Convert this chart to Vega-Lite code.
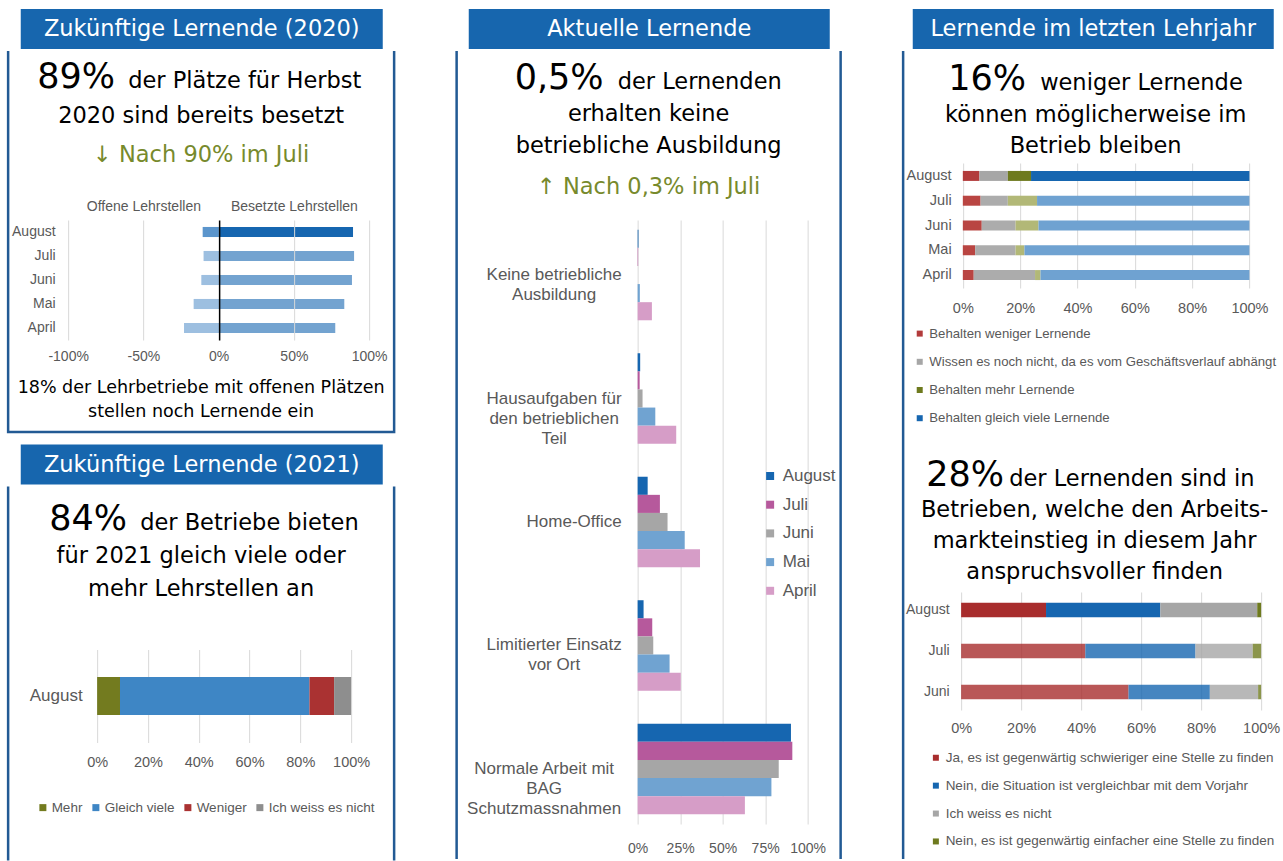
{
  "$schema": "https://vega.github.io/schema/vega-lite/v6.json",
  "background": "#ffffff",
  "padding": {"left": 6.75, "top": 9, "right": 0, "bottom": 0},
  "spacing": 59.5,
  "resolve": {"scale": {"color": "independent"}, "legend": {"color": "independent"}},
  "config": {
    "view": {"stroke": null},
    "axis": {"labelFont": "Liberation Sans", "labelColor": "#595959", "domain": false, "ticks": false, "tickSize": 0, "gridColor": "#d9d9d9", "gridWidth": 1, "labelFlush": false, "labelOverlap": false, "labelBound": false},
    "legend": {"labelFont": "Liberation Sans", "labelColor": "#595959", "symbolType": "square", "symbolStrokeWidth": 0, "labelLimit": 600, "padding": 0, "offset": 0},
    "text": {"font": "DejaVu Sans", "color": "#000000"}
  },
  "hconcat": [
    {
      "spacing": 10.5,
      "resolve": {"scale": {"color": "independent"}, "legend": {"color": "independent"}},
      "vconcat": [
        {
          "spacing": 0, "center": true,
          "resolve": {"scale": {"color": "independent"}, "legend": {"color": "independent"}},
          "vconcat": [
            {
              "width": 362, "height": 40,
              "view": {"fill": "#1766ae", "stroke": null},
              "data": {"values": [{"Titel": "Zukünftige Lernende (2020)"}]},
              "mark": {"type": "text", "font": "DejaVu Sans", "fontSize": 22.5, "color": "#ffffff", "baseline": "middle"},
              "encoding": {"text": {"field": "Titel"}}
            },
            {
              "width": 386, "height": 381,
              "view": {"stroke": "#225a94", "strokeWidth": 2.5, "strokeDash": [0, 386, 1148, 0]},
              "resolve": {"scale": {"y": "independent"}},
              "layer": [
                {
                  "data": {"values": [
                    {"Zeile": 1, "Teil": "Kennzahl", "Text": "89%"},
                    {"Zeile": 1, "Teil": "Text", "Text": "der Plätze für Herbst"},
                    {"Zeile": 2, "Teil": "Text", "Text": "2020 sind bereits besetzt"}
                  ]},
                  "encoding": {
                    "y": {"field": "Zeile", "type": "ordinal", "axis": null, "scale": {"type": "point", "range": [37, 72], "padding": 0}},
                    "text": {"field": "Text"}
                  },
                  "layer": [
                    {"transform": [{"filter": "datum.Teil === 'Kennzahl'"}], "mark": {"type": "text", "font": "DejaVu Sans", "fontSize": 35, "align": "right", "baseline": "alphabetic", "color": "#000000", "dx": -86}},
                    {"transform": [{"filter": "datum.Teil === 'Text' && datum.Zeile === 1"}], "mark": {"type": "text", "font": "DejaVu Sans", "fontSize": 22.5, "align": "left", "baseline": "alphabetic", "color": "#000000", "dx": -73}},
                    {"transform": [{"filter": "datum.Teil === 'Text' && datum.Zeile > 1"}], "mark": {"type": "text", "font": "DejaVu Sans", "fontSize": 22.5, "align": "center", "baseline": "alphabetic", "color": "#000000"}}
                  ]
                },
                {
                  "data": {"values": [{"Zeile": 1, "Text": "↓ Nach 90% im Juli"}]},
                  "mark": {"type": "text", "font": "DejaVu Sans", "fontSize": 22.5, "baseline": "alphabetic", "color": "#778a2c"},
                  "encoding": {
                    "y": {"field": "Zeile", "type": "ordinal", "axis": null, "scale": {"type": "point", "range": [111, 111], "padding": 0}},
                    "text": {"field": "Text"}
                  }
                },
                {
                  "data": {"values": [
                    {"Monat": "August", "Art": "Offene Lehrstellen", "Anteil": -0.106},
                    {"Monat": "August", "Art": "Besetzte Lehrstellen", "Anteil": 0.893},
                    {"Monat": "Juli", "Art": "Offene Lehrstellen", "Anteil": -0.1},
                    {"Monat": "Juli", "Art": "Besetzte Lehrstellen", "Anteil": 0.9},
                    {"Monat": "Juni", "Art": "Offene Lehrstellen", "Anteil": -0.115},
                    {"Monat": "Juni", "Art": "Besetzte Lehrstellen", "Anteil": 0.886},
                    {"Monat": "Mai", "Art": "Offene Lehrstellen", "Anteil": -0.166},
                    {"Monat": "Mai", "Art": "Besetzte Lehrstellen", "Anteil": 0.835},
                    {"Monat": "April", "Art": "Offene Lehrstellen", "Anteil": -0.23},
                    {"Monat": "April", "Art": "Besetzte Lehrstellen", "Anteil": 0.775}
                  ]},
                  "encoding": {
                    "y": {"field": "Monat", "type": "nominal", "sort": ["August", "Juli", "Juni", "Mai", "April"], "title": null,
                      "scale": {"range": [169, 289], "paddingInner": 0.58, "paddingOuter": 0.29},
                      "axis": {"orient": "left", "offset": -51, "labelPadding": 4, "labelFontSize": 14, "grid": false}},
                    "color": {"field": "Art", "type": "nominal", "scale": {"domain": ["Offene Lehrstellen", "Besetzte Lehrstellen"], "range": ["#5b95cc", "#1666b0"]}, "legend": null},
                    "opacity": {"condition": {"test": "datum.Monat === 'August'", "value": 1}, "value": 0.6}
                  },
                  "resolve": {"axis": {"x": "independent"}},
                  "layer": [
                    {
                      "transform": [{"filter": "datum.Art === 'Offene Lehrstellen'"}],
                      "mark": "bar",
                      "encoding": {"x": {"field": "Anteil", "type": "quantitative", "title": null,
                        "scale": {"domain": [-1, 1], "range": [60, 361], "nice": false},
                        "axis": {"orient": "top", "offset": -305, "values": [-1, -0.5, 0, 0.5, 1], "labelExpr": "round(datum.value*100) + '%'", "labelBaseline": "middle", "labelPadding": 0, "labelFontSize": 14, "grid": true, "zindex": 1,
                          "gridColor": {"condition": {"test": "datum.value === 0", "value": "#000000"}, "value": "#d9d9d9"},
                          "gridWidth": {"condition": {"test": "datum.value === 0", "value": 1.5}, "value": 1}}}}
                    },
                    {
                      "transform": [{"filter": "datum.Art === 'Besetzte Lehrstellen'"}],
                      "mark": "bar",
                      "encoding": {"x": {"field": "Anteil", "type": "quantitative", "title": null,
                        "axis": {"orient": "top", "offset": -155, "values": [-0.5, 0.5], "labelExpr": "datum.value < 0 ? 'Offene Lehrstellen' : 'Besetzte Lehrstellen'", "labelBaseline": "middle", "labelPadding": 0, "labelFontSize": 14, "grid": false}}}
                    }
                  ]
                },
                {
                  "data": {"values": [
                    {"Zeile": 1, "Text": "18% der Lehrbetriebe mit offenen Plätzen"},
                    {"Zeile": 2, "Text": "stellen noch Lernende ein"}
                  ]},
                  "mark": {"type": "text", "font": "DejaVu Sans", "fontSize": 17.5, "baseline": "alphabetic", "color": "#000000"},
                  "encoding": {
                    "y": {"field": "Zeile", "type": "ordinal", "axis": null, "scale": {"type": "point", "range": [342, 366], "padding": 0}},
                    "text": {"field": "Text"}
                  }
                }
              ]
            }
          ]
        },
        {
          "spacing": 0, "center": true,
          "resolve": {"scale": {"color": "independent"}, "legend": {"color": "independent"}},
          "vconcat": [
            {
              "width": 362, "height": 40,
              "view": {"fill": "#1766ae", "stroke": null},
              "data": {"values": [{"Titel": "Zukünftige Lernende (2021)"}]},
              "mark": {"type": "text", "font": "DejaVu Sans", "fontSize": 22.5, "color": "#ffffff", "baseline": "middle"},
              "encoding": {"text": {"field": "Titel"}}
            },
            {
              "width": 386, "height": 374,
              "view": {"stroke": "#225a94", "strokeWidth": 2.5, "strokeDash": [0, 386, 374, 386, 374, 0]},
              "resolve": {"scale": {"y": "independent"}},
              "layer": [
                {
                  "data": {"values": [
                    {"Zeile": 1, "Teil": "Kennzahl", "Text": "84%"},
                    {"Zeile": 1, "Teil": "Text", "Text": "der Betriebe bieten"},
                    {"Zeile": 2, "Teil": "Text", "Text": "für 2021 gleich viele oder"},
                    {"Zeile": 3, "Teil": "Text", "Text": "mehr Lehrstellen an"}
                  ]},
                  "encoding": {
                    "y": {"field": "Zeile", "type": "ordinal", "axis": null, "scale": {"type": "point", "range": [43, 109], "padding": 0}},
                    "text": {"field": "Text"}
                  },
                  "layer": [
                    {"transform": [{"filter": "datum.Teil === 'Kennzahl'"}], "mark": {"type": "text", "font": "DejaVu Sans", "fontSize": 35, "align": "right", "baseline": "alphabetic", "color": "#000000", "dx": -74}},
                    {"transform": [{"filter": "datum.Teil === 'Text' && datum.Zeile === 1"}], "mark": {"type": "text", "font": "DejaVu Sans", "fontSize": 22.5, "align": "left", "baseline": "alphabetic", "color": "#000000", "dx": -61}},
                    {"transform": [{"filter": "datum.Teil === 'Text' && datum.Zeile > 1"}], "mark": {"type": "text", "font": "DejaVu Sans", "fontSize": 22.5, "align": "center", "baseline": "alphabetic", "color": "#000000"}}
                  ]
                },
                {
                  "data": {"values": [
                    {"Monat": "August", "Antwort": "Mehr", "Anteil": 0.09},
                    {"Monat": "August", "Antwort": "Gleich viele", "Anteil": 0.746},
                    {"Monat": "August", "Antwort": "Weniger", "Anteil": 0.097},
                    {"Monat": "August", "Antwort": "Ich weiss es nicht", "Anteil": 0.067}
                  ]},
                  "transform": [{"window": [{"op": "row_number", "as": "Reihenfolge"}]}],
                  "mark": "bar",
                  "encoding": {
                    "y": {"field": "Monat", "type": "nominal", "title": null,
                      "scale": {"range": [163, 256], "paddingInner": 0, "paddingOuter": 0.724},
                      "axis": {"orient": "left", "offset": -78, "labelPadding": 4, "labelFontSize": 17}},
                    "x": {"field": "Anteil", "type": "quantitative", "stack": "zero", "title": null,
                      "scale": {"domain": [0, 1], "range": [89, 343], "nice": false},
                      "axis": {"orient": "top", "offset": -276, "values": [0, 0.2, 0.4, 0.6, 0.8, 1], "labelExpr": "round(datum.value*100) + '%'", "labelBaseline": "middle", "labelPadding": 0, "labelFontSize": 14.5, "grid": true}},
                    "color": {"field": "Antwort", "type": "nominal",
                      "scale": {"domain": ["Mehr", "Gleich viele", "Weniger", "Ich weiss es nicht"], "range": ["#737b1f", "#3e86c5", "#aa3232", "#8e8e8e"]},
                      "legend": {"orient": "none", "direction": "horizontal", "legendX": 28, "legendY": 314, "title": null, "labelFontSize": 13.5, "symbolSize": 49, "columnPadding": 6, "labelOffset": 2}},
                    "order": {"field": "Reihenfolge", "type": "quantitative"}
                  }
                }
              ]
            }
          ]
        }
      ]
    },
    {
      "spacing": 0, "center": true,
      "resolve": {"scale": {"color": "independent"}, "legend": {"color": "independent"}},
      "vconcat": [
        {
          "width": 361, "height": 40,
          "view": {"fill": "#1766ae", "stroke": null},
          "data": {"values": [{"Titel": "Aktuelle Lernende"}]},
          "mark": {"type": "text", "font": "DejaVu Sans", "fontSize": 22.5, "color": "#ffffff", "baseline": "middle"},
          "encoding": {"text": {"field": "Titel"}}
        },
        {
          "width": 384, "height": 808,
          "view": {"stroke": "#225a94", "strokeWidth": 2.5, "strokeDash": [0, 384, 808, 384, 808, 0]},
          "resolve": {"scale": {"y": "independent"}},
          "layer": [
            {
              "data": {"values": [
                {"Zeile": 1, "Teil": "Kennzahl", "Text": "0,5%"},
                {"Zeile": 1, "Teil": "Text", "Text": "der Lernenden"},
                {"Zeile": 2, "Teil": "Text", "Text": "erhalten keine"},
                {"Zeile": 3, "Teil": "Text", "Text": "betriebliche Ausbildung"}
              ]},
              "encoding": {
                "y": {"field": "Zeile", "type": "ordinal", "axis": null, "scale": {"type": "point", "range": [38, 102], "padding": 0}},
                "text": {"field": "Text"}
              },
              "layer": [
                {"transform": [{"filter": "datum.Teil === 'Kennzahl'"}], "mark": {"type": "text", "font": "DejaVu Sans", "fontSize": 35, "align": "right", "baseline": "alphabetic", "color": "#000000", "dx": -45}},
                {"transform": [{"filter": "datum.Teil === 'Text' && datum.Zeile === 1"}], "mark": {"type": "text", "font": "DejaVu Sans", "fontSize": 22.5, "align": "left", "baseline": "alphabetic", "color": "#000000", "dx": -31}},
                {"transform": [{"filter": "datum.Teil === 'Text' && datum.Zeile > 1"}], "mark": {"type": "text", "font": "DejaVu Sans", "fontSize": 22.5, "align": "center", "baseline": "alphabetic", "color": "#000000"}}
              ]
            },
            {
              "data": {"values": [{"Zeile": 1, "Text": "↑ Nach 0,3% im Juli"}]},
              "mark": {"type": "text", "font": "DejaVu Sans", "fontSize": 22.5, "baseline": "alphabetic", "color": "#778a2c"},
              "encoding": {
                "y": {"field": "Zeile", "type": "ordinal", "axis": null, "scale": {"type": "point", "range": [143, 143], "padding": 0}},
                "text": {"field": "Text"}
              }
            },
            {
              "data": {"values": [
                {"Kategorie": "Keine betriebliche Ausbildung", "Monat": "August", "Anteil": 0.005},
                {"Kategorie": "Keine betriebliche Ausbildung", "Monat": "Juli", "Anteil": 0.003},
                {"Kategorie": "Keine betriebliche Ausbildung", "Monat": "Mai", "Anteil": 0.013},
                {"Kategorie": "Keine betriebliche Ausbildung", "Monat": "April", "Anteil": 0.084},
                {"Kategorie": "Hausaufgaben für den betrieblichen Teil", "Monat": "August", "Anteil": 0.015},
                {"Kategorie": "Hausaufgaben für den betrieblichen Teil", "Monat": "Juli", "Anteil": 0.012},
                {"Kategorie": "Hausaufgaben für den betrieblichen Teil", "Monat": "Juni", "Anteil": 0.029},
                {"Kategorie": "Hausaufgaben für den betrieblichen Teil", "Monat": "Mai", "Anteil": 0.104},
                {"Kategorie": "Hausaufgaben für den betrieblichen Teil", "Monat": "April", "Anteil": 0.227},
                {"Kategorie": "Home-Office", "Monat": "August", "Anteil": 0.059},
                {"Kategorie": "Home-Office", "Monat": "Juli", "Anteil": 0.131},
                {"Kategorie": "Home-Office", "Monat": "Juni", "Anteil": 0.176},
                {"Kategorie": "Home-Office", "Monat": "Mai", "Anteil": 0.277},
                {"Kategorie": "Home-Office", "Monat": "April", "Anteil": 0.367},
                {"Kategorie": "Limitierter Einsatz vor Ort", "Monat": "August", "Anteil": 0.035},
                {"Kategorie": "Limitierter Einsatz vor Ort", "Monat": "Juli", "Anteil": 0.086},
                {"Kategorie": "Limitierter Einsatz vor Ort", "Monat": "Juni", "Anteil": 0.092},
                {"Kategorie": "Limitierter Einsatz vor Ort", "Monat": "Mai", "Anteil": 0.188},
                {"Kategorie": "Limitierter Einsatz vor Ort", "Monat": "April", "Anteil": 0.254},
                {"Kategorie": "Normale Arbeit mit BAG Schutzmassnahmen", "Monat": "August", "Anteil": 0.902},
                {"Kategorie": "Normale Arbeit mit BAG Schutzmassnahmen", "Monat": "Juli", "Anteil": 0.91},
                {"Kategorie": "Normale Arbeit mit BAG Schutzmassnahmen", "Monat": "Juni", "Anteil": 0.83},
                {"Kategorie": "Normale Arbeit mit BAG Schutzmassnahmen", "Monat": "Mai", "Anteil": 0.787},
                {"Kategorie": "Normale Arbeit mit BAG Schutzmassnahmen", "Monat": "April", "Anteil": 0.631}
              ]},
              "mark": "bar",
              "encoding": {
                "y": {"field": "Kategorie", "type": "nominal", "title": null,
                  "sort": ["Keine betriebliche Ausbildung", "Hausaufgaben für den betrieblichen Teil", "Home-Office", "Limitierter Einsatz vor Ort", "Normale Arbeit mit BAG Schutzmassnahmen"],
                  "scale": {"range": [169, 773], "paddingInner": 0.267, "paddingOuter": 0.079},
                  "axis": {"orient": "left", "offset": -165, "labelAlign": "center", "labelBaseline": "middle", "labelFontSize": 17, "labelLineHeight": 20, "labelLimit": 400,
                    "labelPadding": {"condition": [{"test": "datum.value === 'Home-Office'", "value": 48}, {"test": "datum.value === 'Normale Arbeit mit BAG Schutzmassnahmen'", "value": 78}], "value": 68},
                    "labelExpr": "datum.value === 'Keine betriebliche Ausbildung' ? ['Keine betriebliche', 'Ausbildung'] : datum.value === 'Hausaufgaben für den betrieblichen Teil' ? ['Hausaufgaben für', 'den betrieblichen', 'Teil'] : datum.value === 'Limitierter Einsatz vor Ort' ? ['Limitierter Einsatz', 'vor Ort'] : datum.value === 'Normale Arbeit mit BAG Schutzmassnahmen' ? ['Normale Arbeit mit', 'BAG', 'Schutzmassnahmen'] : datum.label"}},
                "yOffset": {"field": "Monat", "type": "nominal", "sort": ["August", "Juli", "Juni", "Mai", "April"], "scale": {"paddingInner": 0, "paddingOuter": 0}},
                "x": {"field": "Anteil", "type": "quantitative", "title": null,
                  "scale": {"domain": [0, 1], "range": [181, 351], "nice": false},
                  "axis": {"orient": "top", "offset": -797, "values": [0, 0.25, 0.5, 0.75, 1], "labelExpr": "round(datum.value*100) + '%'", "labelBaseline": "middle", "labelPadding": 0, "labelFontSize": 14, "grid": true}},
                "color": {"field": "Monat", "type": "nominal",
                  "scale": {"domain": ["August", "Juli", "Juni", "Mai", "April"], "range": ["#1666b0", "#b6599c", "#a6a6a6", "#70a3d1", "#d69dc7"]},
                  "legend": {"orient": "none", "direction": "vertical", "legendX": 305, "legendY": 416.5, "title": null, "labelFontSize": 17, "symbolSize": 64, "rowPadding": 10.7, "labelOffset": 4}}
              }
            }
          ]
        }
      ]
    },
    {
      "spacing": 0, "center": true,
      "resolve": {"scale": {"color": "independent"}, "legend": {"color": "independent"}},
      "vconcat": [
        {
          "width": 361, "height": 40,
          "view": {"fill": "#1766ae", "stroke": null},
          "data": {"values": [{"Titel": "Lernende im letzten Lehrjahr"}]},
          "mark": {"type": "text", "font": "DejaVu Sans", "fontSize": 22.5, "color": "#ffffff", "baseline": "middle"},
          "encoding": {"text": {"field": "Titel"}}
        },
        {
          "width": 379, "height": 808,
          "view": {"stroke": "#225a94", "strokeWidth": 2.5, "strokeDash": [0, 1566, 808, 0]},
          "resolve": {"scale": {"y": "independent", "x": "independent", "color": "independent"}, "legend": {"color": "independent"}},
          "layer": [
            {
              "data": {"values": [
                {"Zeile": 1, "Teil": "Kennzahl", "Text": "16%"},
                {"Zeile": 1, "Teil": "Text", "Text": "weniger Lernende"},
                {"Zeile": 2, "Teil": "Text", "Text": "können möglicherweise im"},
                {"Zeile": 3, "Teil": "Text", "Text": "Betrieb bleiben"}
              ]},
              "encoding": {
                "y": {"field": "Zeile", "type": "ordinal", "axis": null, "scale": {"type": "point", "range": [39, 102], "padding": 0}},
                "text": {"field": "Text"}
              },
              "layer": [
                {"transform": [{"filter": "datum.Teil === 'Kennzahl'"}], "mark": {"type": "text", "font": "DejaVu Sans", "fontSize": 35, "align": "right", "baseline": "alphabetic", "color": "#000000", "dx": -66.5}},
                {"transform": [{"filter": "datum.Teil === 'Text' && datum.Zeile === 1"}], "mark": {"type": "text", "font": "DejaVu Sans", "fontSize": 22.5, "align": "left", "baseline": "alphabetic", "color": "#000000", "dx": -52.5}},
                {"transform": [{"filter": "datum.Teil === 'Text' && datum.Zeile > 1"}], "mark": {"type": "text", "font": "DejaVu Sans", "fontSize": 22.5, "align": "center", "baseline": "alphabetic", "color": "#000000", "dx": 3}}
              ]
            },
            {
              "data": {"values": [
                {"Monat": "August", "Antwort": "Behalten weniger Lernende", "Anteil": 0.058},
                {"Monat": "August", "Antwort": "Wissen es noch nicht, da es vom Geschäftsverlauf abhängt", "Anteil": 0.099},
                {"Monat": "August", "Antwort": "Behalten mehr Lernende", "Anteil": 0.081},
                {"Monat": "August", "Antwort": "Behalten gleich viele Lernende", "Anteil": 0.762},
                {"Monat": "Juli", "Antwort": "Behalten weniger Lernende", "Anteil": 0.062},
                {"Monat": "Juli", "Antwort": "Wissen es noch nicht, da es vom Geschäftsverlauf abhängt", "Anteil": 0.095},
                {"Monat": "Juli", "Antwort": "Behalten mehr Lernende", "Anteil": 0.102},
                {"Monat": "Juli", "Antwort": "Behalten gleich viele Lernende", "Anteil": 0.741},
                {"Monat": "Juni", "Antwort": "Behalten weniger Lernende", "Anteil": 0.066},
                {"Monat": "Juni", "Antwort": "Wissen es noch nicht, da es vom Geschäftsverlauf abhängt", "Anteil": 0.118},
                {"Monat": "Juni", "Antwort": "Behalten mehr Lernende", "Anteil": 0.08},
                {"Monat": "Juni", "Antwort": "Behalten gleich viele Lernende", "Anteil": 0.736},
                {"Monat": "Mai", "Antwort": "Behalten weniger Lernende", "Anteil": 0.043},
                {"Monat": "Mai", "Antwort": "Wissen es noch nicht, da es vom Geschäftsverlauf abhängt", "Anteil": 0.141},
                {"Monat": "Mai", "Antwort": "Behalten mehr Lernende", "Anteil": 0.031},
                {"Monat": "Mai", "Antwort": "Behalten gleich viele Lernende", "Anteil": 0.785},
                {"Monat": "April", "Antwort": "Behalten weniger Lernende", "Anteil": 0.038},
                {"Monat": "April", "Antwort": "Wissen es noch nicht, da es vom Geschäftsverlauf abhängt", "Anteil": 0.214},
                {"Monat": "April", "Antwort": "Behalten mehr Lernende", "Anteil": 0.019},
                {"Monat": "April", "Antwort": "Behalten gleich viele Lernende", "Anteil": 0.729}
              ]},
              "transform": [{"window": [{"op": "row_number", "as": "Reihenfolge"}]}],
              "encoding": {
                "y": {"field": "Monat", "type": "nominal", "sort": ["August", "Juli", "Juni", "Mai", "April"], "title": null,
                  "scale": {"range": [112, 237], "paddingInner": 0.597, "paddingOuter": 0.32},
                  "axis": {"orient": "left", "offset": -52, "labelPadding": 4, "labelFontSize": 14.5}},
                "x": {"field": "Anteil", "type": "quantitative", "stack": "zero", "title": null,
                  "scale": {"domain": [0, 1], "range": [59.7, 346.3], "nice": false},
                  "axis": {"orient": "top", "offset": -257, "values": [0, 0.2, 0.4, 0.6, 0.8, 1], "labelExpr": "round(datum.value*100) + '%'", "labelBaseline": "middle", "labelPadding": 0, "labelFontSize": 14.5, "grid": true}},
                "order": {"field": "Reihenfolge", "type": "quantitative"}
              },
              "resolve": {"scale": {"color": "independent"}, "legend": {"color": "independent"}},
              "layer": [
                {
                  "transform": [{"filter": "datum.Monat === 'August'"}],
                  "mark": "bar",
                  "encoding": {
                    "color": {"field": "Antwort", "type": "nominal",
                      "scale": {"domain": ["Behalten weniger Lernende", "Wissen es noch nicht, da es vom Geschäftsverlauf abhängt", "Behalten mehr Lernende", "Behalten gleich viele Lernende"], "range": ["#b23b3b", "#a6a6a6", "#6e7a1e", "#1666b0"]},
                      "legend": {"orient": "none", "direction": "vertical", "legendX": 10, "legendY": 276, "title": null, "labelFontSize": 13.2, "symbolSize": 36, "rowPadding": 14.2, "labelOffset": 3}}
                  }
                },
                {
                  "transform": [{"filter": "datum.Monat !== 'August'"}],
                  "mark": "bar",
                  "encoding": {
                    "color": {"field": "Antwort", "type": "nominal",
                      "scale": {"domain": ["Behalten weniger Lernende", "Wissen es noch nicht, da es vom Geschäftsverlauf abhängt", "Behalten mehr Lernende", "Behalten gleich viele Lernende"], "range": ["#b94542", "#acacac", "#b2b877", "#6fa2d1"]},
                      "legend": null}
                  }
                }
              ]
            },
            {
              "data": {"values": [
                {"Zeile": 1, "Teil": "Kennzahl", "Text": "28%"},
                {"Zeile": 1, "Teil": "Text", "Text": "der Lernenden sind in"},
                {"Zeile": 2, "Teil": "Text", "Text": "Betrieben, welche den Arbeits-"},
                {"Zeile": 3, "Teil": "Text", "Text": "markteinstieg in diesem Jahr"},
                {"Zeile": 4, "Teil": "Text", "Text": "anspruchsvoller finden"}
              ]},
              "encoding": {
                "y": {"field": "Zeile", "type": "ordinal", "axis": null, "scale": {"type": "point", "range": [435, 528], "padding": 0}},
                "text": {"field": "Text"}
              },
              "layer": [
                {"transform": [{"filter": "datum.Teil === 'Kennzahl'"}], "mark": {"type": "text", "font": "DejaVu Sans", "fontSize": 35, "align": "right", "baseline": "alphabetic", "color": "#000000", "dx": -88.5}},
                {"transform": [{"filter": "datum.Teil === 'Text' && datum.Zeile === 1"}], "mark": {"type": "text", "font": "DejaVu Sans", "fontSize": 22.5, "align": "left", "baseline": "alphabetic", "color": "#000000", "dx": -83.5}},
                {"transform": [{"filter": "datum.Teil === 'Text' && datum.Zeile > 1"}], "mark": {"type": "text", "font": "DejaVu Sans", "fontSize": 22.5, "align": "center", "baseline": "alphabetic", "color": "#000000", "dx": 2}}
              ]
            },
            {
              "data": {"values": [
                {"Monat": "August", "Antwort": "Ja, es ist gegenwärtig schwieriger eine Stelle zu finden", "Anteil": 0.283},
                {"Monat": "August", "Antwort": "Nein, die Situation ist vergleichbar mit dem Vorjahr", "Anteil": 0.381},
                {"Monat": "August", "Antwort": "Ich weiss es nicht", "Anteil": 0.323},
                {"Monat": "August", "Antwort": "Nein, es ist gegenwärtig einfacher eine Stelle zu finden", "Anteil": 0.013},
                {"Monat": "Juli", "Antwort": "Ja, es ist gegenwärtig schwieriger eine Stelle zu finden", "Anteil": 0.414},
                {"Monat": "Juli", "Antwort": "Nein, die Situation ist vergleichbar mit dem Vorjahr", "Anteil": 0.367},
                {"Monat": "Juli", "Antwort": "Ich weiss es nicht", "Anteil": 0.191},
                {"Monat": "Juli", "Antwort": "Nein, es ist gegenwärtig einfacher eine Stelle zu finden", "Anteil": 0.028},
                {"Monat": "Juni", "Antwort": "Ja, es ist gegenwärtig schwieriger eine Stelle zu finden", "Anteil": 0.558},
                {"Monat": "Juni", "Antwort": "Nein, die Situation ist vergleichbar mit dem Vorjahr", "Anteil": 0.271},
                {"Monat": "Juni", "Antwort": "Ich weiss es nicht", "Anteil": 0.161},
                {"Monat": "Juni", "Antwort": "Nein, es ist gegenwärtig einfacher eine Stelle zu finden", "Anteil": 0.01}
              ]},
              "transform": [{"window": [{"op": "row_number", "as": "Reihenfolge"}]}],
              "mark": "bar",
              "encoding": {
                "y": {"field": "Monat", "type": "nominal", "sort": ["August", "Juli", "Juni"], "title": null,
                  "scale": {"range": [541, 659], "paddingInner": 0.646, "paddingOuter": 0.262},
                  "axis": {"orient": "left", "offset": -50, "labelPadding": 4, "labelFontSize": 14}},
                "x": {"field": "Anteil", "type": "quantitative", "stack": "zero", "title": null,
                  "scale": {"domain": [0, 1], "range": [58, 358], "nice": false},
                  "axis": {"orient": "top", "offset": -677, "values": [0, 0.2, 0.4, 0.6, 0.8, 1], "labelExpr": "round(datum.value*100) + '%'", "labelBaseline": "middle", "labelPadding": 0, "labelFontSize": 14.5, "grid": true}},
                "color": {"field": "Antwort", "type": "nominal",
                  "scale": {"domain": ["Ja, es ist gegenwärtig schwieriger eine Stelle zu finden", "Nein, die Situation ist vergleichbar mit dem Vorjahr", "Ich weiss es nicht", "Nein, es ist gegenwärtig einfacher eine Stelle zu finden"], "range": ["#a82d2d", "#1666b0", "#a6a6a6", "#6e7a1e"]},
                  "legend": {"orient": "none", "direction": "vertical", "legendX": 26, "legendY": 700, "title": null, "labelFontSize": 13.5, "symbolSize": 36, "rowPadding": 12.9, "labelOffset": 3}},
                "opacity": {"condition": {"test": "datum.Monat === 'August'", "value": 1}, "value": 0.8},
                "order": {"field": "Reihenfolge", "type": "quantitative"}
              }
            }
          ]
        }
      ]
    }
  ]
}
